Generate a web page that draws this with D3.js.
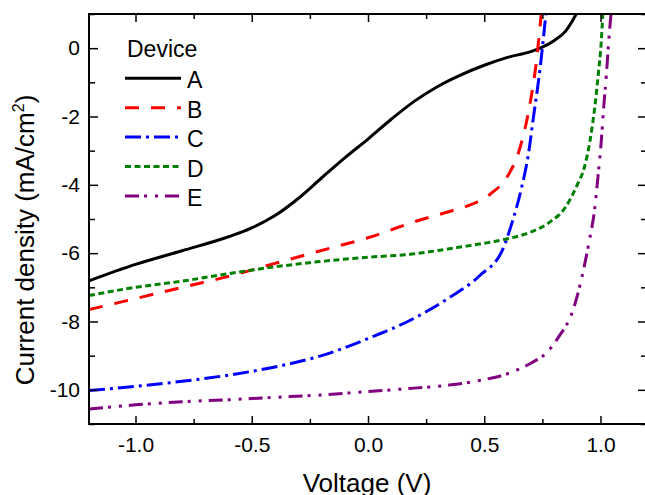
<!DOCTYPE html>
<html>
<head>
<script src="https://d3js.org/d3.v7.min.js"></script>
<style>
  body { margin: 0; background: #fff; }
  text { font-family: "Liberation Sans", Arial, sans-serif; fill: #000; }
</style>
</head>
<body>
<div id="chart"></div>
<script>
// J-V curves, voltage in V, current density in mA/cm2
const devices = ["A", "B", "C", "D", "E"];
const colors = ["#000000", "#ff0000", "#0000ff", "#008000", "#800080"];
const dashes = ["none", "14,12", "16,5,3,5", "6,3.5", "14,5,3,8,3,7"];

const vA = [-1.2, -1.0, -0.8, -0.6, -0.5, -0.4, -0.3, -0.2, -0.1, 0.0, 0.1, 0.2, 0.3, 0.4, 0.5, 0.6, 0.7, 0.74, 0.8, 0.85, 0.9];
const jA = [-6.81, -6.33, -5.93, -5.52, -5.26, -4.9, -4.4, -3.8, -3.21, -2.66, -2.08, -1.55, -1.12, -0.78, -0.5, -0.27, -0.1, 0.0, 0.22, 0.5, 1.05];

const vB = [-1.2, -1.0, -0.8, -0.6, -0.4, -0.2, 0.0, 0.2, 0.35, 0.45, 0.53, 0.6, 0.65, 0.7, 0.725, 0.745];
const jB = [-7.65, -7.33, -7.0, -6.68, -6.3, -5.92, -5.55, -5.08, -4.78, -4.56, -4.25, -3.75, -3.0, -1.5, -0.35, 1.0];

const vC = [-1.2, -1.0, -0.8, -0.6, -0.4, -0.2, 0.0, 0.2, 0.35, 0.48, 0.58, 0.62, 0.66, 0.69, 0.71, 0.74, 0.765];
const jC = [-10.02, -9.9, -9.75, -9.57, -9.33, -9.0, -8.5, -7.9, -7.3, -6.66, -5.88, -5.1, -4.1, -3.1, -2.1, -0.6, 1.0];

const vD = [-1.2, -1.0, -0.8, -0.6, -0.4, -0.2, 0.0, 0.2, 0.35, 0.5, 0.6, 0.7, 0.78, 0.85, 0.9, 0.93, 0.955, 0.975, 0.99, 1.003, 1.01];
const jD = [-7.24, -7.0, -6.82, -6.6, -6.4, -6.24, -6.12, -6.02, -5.87, -5.71, -5.58, -5.38, -5.1, -4.65, -4.0, -3.5, -2.7, -1.75, -0.8, 0.17, 1.0];

const vE = [-1.2, -1.0, -0.8, -0.6, -0.4, -0.2, 0.0, 0.2, 0.35, 0.5, 0.6, 0.7, 0.77, 0.82, 0.88, 0.92, 0.95, 0.975, 0.99, 1.003, 1.013, 1.025, 1.035, 1.045];
const jE = [-10.56, -10.44, -10.35, -10.29, -10.22, -10.15, -10.05, -9.95, -9.86, -9.7, -9.53, -9.22, -8.9, -8.45, -7.7, -6.7, -5.7, -4.7, -3.7, -2.75, -1.8, -0.8, 0.17, 1.0];

const xTicks = [-1.0, -0.5, 0.0, 0.5, 1.0];
const xMinor = [-0.75, -0.25, 0.25, 0.75];
const yTicks = [0, -2, -4, -6, -8, -10];
const yMinor = [1, -1, -3, -5, -7, -9, -11];

const series = [[vA, jA], [vB, jB], [vC, jC], [vD, jD], [vE, jE]];

const W = 645, H = 495;
const pLeft = 89, pRight = 647, pTop = 14, pBottom = 424;

const svg = d3.select("#chart").append("svg")
  .attr("width", W).attr("height", H);

const x = d3.scaleLinear().domain([-1.2, 1.2]).range([pLeft, pRight]);
const y = d3.scaleLinear().domain([-11, 1]).range([pBottom, pTop]);

svg.append("clipPath").attr("id", "plot")
  .append("rect")
  .attr("x", pLeft).attr("y", pTop)
  .attr("width", pRight - pLeft).attr("height", pBottom - pTop);

// curves
const line = d3.line()
  .x(d => x(d[0]))
  .y(d => y(d[1]))
  .curve(d3.curveMonotoneX);

series.forEach(function(s, i) {
  const pts = s[0].map((v, k) => [v, s[1][k]]);
  svg.append("path")
    .datum(pts)
    .attr("clip-path", "url(#plot)")
    .attr("fill", "none")
    .attr("stroke", colors[i])
    .attr("stroke-width", 3)
    .attr("stroke-dasharray", dashes[i])
    .attr("d", line);
});

function styleAxis(g) {
  g.select(".domain").remove();
  g.selectAll("line").attr("stroke", "#000").attr("stroke-width", 1.5);
  g.selectAll("text").style("font-size", "21px")
    .style("font-family", "'Liberation Sans', Arial, sans-serif");
}

const fmtX = d => d3.format(".1f")(d).replace("−", "-");

// bottom axis
svg.append("g")
  .attr("transform", "translate(0," + pBottom + ")")
  .call(d3.axisBottom(x).tickValues(xTicks).tickFormat(fmtX)
    .tickSizeInner(-8).tickSizeOuter(0).tickPadding(13))
  .call(styleAxis);
svg.append("g")
  .attr("transform", "translate(0," + pBottom + ")")
  .call(d3.axisBottom(x).tickValues(xMinor).tickFormat("")
    .tickSizeInner(-5).tickSizeOuter(0))
  .call(styleAxis);

// top axis (ticks only)
svg.append("g")
  .attr("transform", "translate(0," + pTop + ")")
  .call(d3.axisTop(x).tickValues(xTicks).tickFormat("")
    .tickSizeInner(-8).tickSizeOuter(0))
  .call(styleAxis);
svg.append("g")
  .attr("transform", "translate(0," + pTop + ")")
  .call(d3.axisTop(x).tickValues(xMinor).tickFormat("")
    .tickSizeInner(-5).tickSizeOuter(0))
  .call(styleAxis);

// left axis
svg.append("g")
  .attr("transform", "translate(" + pLeft + ",0)")
  .call(d3.axisLeft(y).tickValues(yTicks).tickFormat(d => String(d))
    .tickSizeInner(-9).tickSizeOuter(0).tickPadding(9))
  .call(styleAxis);
svg.append("g")
  .attr("transform", "translate(" + pLeft + ",0)")
  .call(d3.axisLeft(y).tickValues(yMinor).tickFormat("")
    .tickSizeInner(-6).tickSizeOuter(0))
  .call(styleAxis);

// right axis (ticks only)
svg.append("g")
  .attr("transform", "translate(" + pRight + ",0)")
  .call(d3.axisRight(y).tickValues(yTicks).tickFormat("")
    .tickSizeInner(-9).tickSizeOuter(0))
  .call(styleAxis);
svg.append("g")
  .attr("transform", "translate(" + pRight + ",0)")
  .call(d3.axisRight(y).tickValues(yMinor).tickFormat("")
    .tickSizeInner(-6).tickSizeOuter(0))
  .call(styleAxis);

// frame
svg.append("rect")
  .attr("x", pLeft).attr("y", pTop)
  .attr("width", pRight - pLeft).attr("height", pBottom - pTop)
  .attr("fill", "none").attr("stroke", "#000").attr("stroke-width", 2);

// axis titles
svg.append("text")
  .attr("x", 367).attr("y", 492)
  .attr("text-anchor", "middle")
  .style("font-size", "26px")
  .text("Voltage (V)");

const yTitle = svg.append("text")
  .attr("transform", "translate(34," + 240 + ") rotate(-90)")
  .attr("text-anchor", "middle")
  .style("font-size", "26px");
yTitle.append("tspan").text("Current density (mA/cm");
yTitle.append("tspan").attr("dy", -10).style("font-size", "16px").text("2");
yTitle.append("tspan").attr("dy", 10).text(")");

// legend
svg.append("text")
  .attr("x", 127).attr("y", 57)
  .style("font-size", "23px")
  .text("Device");

devices.forEach(function(name, i) {
  const ly = 78.3 + i * 29.4;
  svg.append("line")
    .attr("x1", 125).attr("x2", 181)
    .attr("y1", ly).attr("y2", ly)
    .attr("stroke", colors[i])
    .attr("stroke-width", 3)
    .attr("stroke-dasharray", dashes[i]);
  svg.append("text")
    .attr("x", 187).attr("y", ly + 10)
    .style("font-size", "23px")
    .text(name);
});
</script>
</body>
</html>
